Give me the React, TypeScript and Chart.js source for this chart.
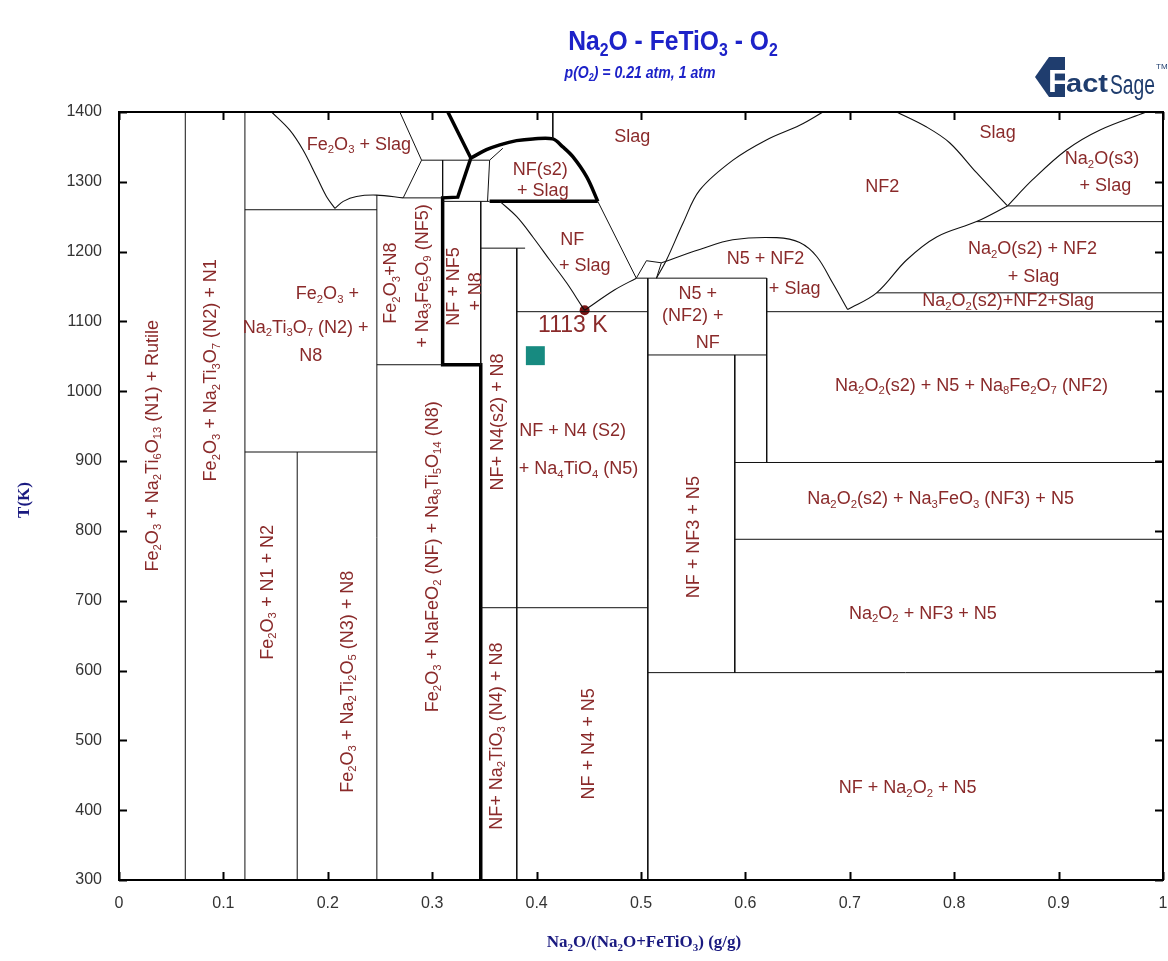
import React, { useEffect, useRef } from "react";
import { Chart, registerables } from "chart.js";

Chart.register(...registerables);

type P = [number, number];

// ---------- axes ----------
const X_MIN = 0;
const X_MAX = 1;
const X_STEP = 0.1;
const T_MIN = 300;
const T_MAX = 1400;
const T_STEP = 100;

// ---------- thin straight phase boundaries (x = mass ratio, T in K) ----------
const V_N1_N2: P[] = [[0.0635, 300], [0.0635, 1400]];
const V_N2_N8: P[] = [[0.1206, 300], [0.1206, 1400]];
const V_N1N2_N3: P[] = [[0.1707, 300], [0.1707, 913]];
const H_913: P[] = [[0.1206, 913], [0.247, 913]];
const H_1260: P[] = [[0.1206, 1260], [0.247, 1260]];
const V_N3_NF: P[] = [[0.247, 300], [0.247, 1281]];
const H_1277: P[] = [[0.2722, 1277], [0.31, 1277]];
const H_1331: P[] = [[0.2898, 1331], [0.355, 1331]];
const V_0310_TOP: P[] = [[0.31, 1331], [0.31, 1277]];
const V_0355: P[] = [[0.355, 1331], [0.353, 1272]];
const DOME_LINK: P[] = [[0.355, 1331], [0.3676, 1348]];
const H_1272: P[] = [[0.31, 1272], [0.355, 1272]];
const V_03465_UP: P[] = [[0.3465, 1272], [0.3465, 1038]];
const H_1038: P[] = [[0.247, 1038], [0.31, 1038]];
const H_1205: P[] = [[0.3465, 1205], [0.389, 1205]];
const V_0381: P[] = [[0.381, 1205], [0.381, 300]];
const H_1114_A: P[] = [[0.381, 1114], [0.5065, 1114]];
const H_1114_B: P[] = [[0.6204, 1114], [1, 1114]];
const H_690: P[] = [[0.3465, 690], [0.5065, 690]];
const V_05065: P[] = [[0.5065, 1162], [0.5065, 300]];
const H_1162: P[] = [[0.4955, 1162], [0.6204, 1162]];
const V_06204: P[] = [[0.6204, 1162], [0.6204, 898]];
const H_1052: P[] = [[0.5065, 1052], [0.6204, 1052]];
const V_05898: P[] = [[0.5898, 1052], [0.5898, 597]];
const H_898: P[] = [[0.5898, 898], [1, 898]];
const H_788: P[] = [[0.5898, 788], [1, 788]];
const H_597: P[] = [[0.5065, 597], [1, 597]];
const H_1141: P[] = [[0.7257, 1141], [1, 1141]];
const H_1243: P[] = [[0.8214, 1243], [1, 1243]];
const H_1265: P[] = [[0.8511, 1265.5], [1, 1265.5]];
const V_SLAG_TOP: P[] = [[0.4155, 1400], [0.4155, 1361.5]];
const SLAG_NF_EDGE: P[] = [[0.4586, 1272], [0.4955, 1162]];
const ZIGZAG: P[] = [[0.4955, 1162], [0.5052, 1187], [0.5195, 1184], [0.5148, 1162]];
const FE_SLAG_RIGHT: P[] = [[0.269, 1400], [0.2898, 1331], [0.2722, 1277]];

// ---------- curved phase boundaries ----------
const FE_SLAG_LEFT: P[] = [[0.1462, 1400], [0.1636, 1374], [0.1763, 1345.5], [0.1892, 1307.5], [0.1987, 1279], [0.2068, 1262]];
const FE_SLAG_BOTTOM: P[] = [[0.2068, 1262], [0.2148, 1272], [0.2275, 1279], [0.2467, 1281], [0.2722, 1277]];
const NF_SLAG_LEFT: P[] = [[0.3648, 1272], [0.381, 1250], [0.3964, 1221], [0.4126, 1188], [0.4289, 1155], [0.4433, 1122], [0.446, 1116]];
const NF_SLAG_RIGHT: P[] = [[0.446, 1116], [0.4745, 1145], [0.4955, 1162]];
const N5_NF2_SLAG: P[] = [[0.5195, 1184], [0.5562, 1203], [0.5879, 1217], [0.63, 1220], [0.652, 1213], [0.6683, 1193], [0.6836, 1155], [0.6979, 1117]];
const NF2_LEFT: P[] = [[0.5148, 1162], [0.5244, 1188], [0.5403, 1241], [0.5562, 1288], [0.5881, 1331], [0.6201, 1360], [0.652, 1381], [0.6743, 1400]];
const NF2_RIGHT: P[] = [[0.7449, 1400], [0.7736, 1378.5], [0.7956, 1356], [0.8214, 1313], [0.8511, 1265.5]];
const NA2O_LEFT: P[] = [[0.8511, 1265.5], [0.8751, 1303], [0.9076, 1346], [0.9392, 1374], [0.984, 1400]];
const NF2_BOTTOM: P[] = [[0.6979, 1117], [0.7257, 1141], [0.7544, 1188], [0.7832, 1221], [0.8214, 1243], [0.8511, 1265.5]];

// ---------- heavy boundaries ----------
const HEAVY_MAIN: P[] = [[0.315, 1400], [0.337, 1334], [0.3245, 1278], [0.31, 1277], [0.31, 1038], [0.3465, 1038], [0.3465, 300]];
const HEAVY_DOME: P[] = [[0.337, 1334], [0.352, 1346], [0.3648, 1353], [0.3808, 1359], [0.3964, 1361.5], [0.4155, 1361.5], [0.4251, 1350], [0.4347, 1336], [0.448, 1307], [0.4586, 1272]];
const HEAVY_FLOOR: P[] = [[0.355, 1272], [0.4586, 1272]];

// ---------- points ----------
const EUTECTIC: P[] = [[0.446, 1116]];
const MARKER: P[] = [[0.3988, 1051]];

const THIN_LINES: P[][] = [
  V_N1_N2, V_N2_N8, V_N1N2_N3, H_913, H_1260, V_N3_NF, H_1277, H_1331, V_0310_TOP, V_0355,
  DOME_LINK, H_1272, V_03465_UP, H_1038, H_1205, V_0381, H_1114_A, H_1114_B, H_690, V_05065,
  H_1162, V_06204, H_1052, V_05898, H_898, H_788, H_597, H_1141, H_1243, H_1265, V_SLAG_TOP,
  SLAG_NF_EDGE, ZIGZAG, FE_SLAG_RIGHT,
];
const CURVES: P[][] = [FE_SLAG_LEFT, FE_SLAG_BOTTOM, NF_SLAG_LEFT, NF_SLAG_RIGHT, N5_NF2_SLAG, NF2_LEFT, NF2_RIGHT, NA2O_LEFT, NF2_BOTTOM];
const HEAVY_LINES: P[][] = [HEAVY_MAIN, HEAVY_DOME, HEAVY_FLOOR];

// ---------- region labels: text (_ = subscript), x, T, vertical ----------
const REGION_LABELS: [string, number, number, boolean][] = [
  ["Fe_2O_3 + Na_2Ti_6O_{13} (N1) + Rutile", 0.0309, 922, true],
  ["Fe_2O_3 + Na_2Ti_3O_7 (N2) + N1", 0.0871, 1030, true],
  ["Fe_2O_3 +", 0.1996, 1141, false],
  ["Na_2Ti_3O_7 (N2) +", 0.1788, 1093, false],
  ["N8", 0.1836, 1052, false],
  ["Fe_2O_3 + N1 + N2", 0.1414, 712, true],
  ["Fe_2O_3 + Na_2Ti_2O_5 (N3) + N8", 0.2177, 584, true],
  ["Fe_2O_3 + NaFeO_2 (NF) + Na_8Ti_5O_{14} (N8)", 0.2994, 763, true],
  ["Fe_2O_3+N8", 0.2595, 1155, true],
  ["+ Na_3Fe_5O_9 (NF5)", 0.2898, 1165, true],
  ["NF + NF5", 0.32, 1150, true],
  ["+ N8", 0.3408, 1143, true],
  ["NF+ N4(s2) + N8", 0.3616, 956, true],
  ["NF+ Na_2TiO_3 (N4) + N8", 0.3605, 506, true],
  ["NF + N4 + N5", 0.4485, 495, true],
  ["NF + N4 (S2)", 0.4345, 945, false],
  ["+ Na_4TiO_4 (N5)", 0.4402, 890, false],
  ["Fe_2O_3 + Slag", 0.2298, 1355, false],
  ["NF(s2)", 0.4035, 1319, false],
  ["+ Slag", 0.406, 1288, false],
  ["NF", 0.4342, 1219, false],
  ["+ Slag", 0.4461, 1181, false],
  ["Slag", 0.4916, 1366, false],
  ["N5 +", 0.5543, 1141, false],
  ["(NF2) +", 0.5495, 1110, false],
  ["NF", 0.5639, 1071.5, false],
  ["NF + NF3 + N5", 0.5498, 791, true],
  ["N5 + NF2", 0.6193, 1190.7, false],
  ["+ Slag", 0.6472, 1148, false],
  ["NF2", 0.731, 1294, false],
  ["Slag", 0.8416, 1372, false],
  ["Na_2O(s3)", 0.9416, 1334, false],
  ["+ Slag", 0.9448, 1296, false],
  ["Na_2O(s2) + NF2", 0.875, 1205, false],
  ["+ Slag", 0.876, 1165, false],
  ["Na_2O_2(s2)+NF2+Slag", 0.8516, 1131, false],
  ["Na_2O_2(s2) + N5 + Na_8Fe_2O_7 (NF2)", 0.8166, 1009.5, false],
  ["Na_2O_2(s2) + Na_3FeO_3 (NF3) + N5", 0.787, 847.4, false],
  ["Na_2O_2 + NF3 + N5", 0.77, 683, false],
  ["NF + Na_2O_2 + N5", 0.7554, 433, false],
];
const EUTECTIC_LABEL: [string, number, number] = ["1113 K", 0.4347, 1097];

const TITLE = "Na_2O - FeTiO_3 - O_2";
const SUBTITLE = "p(O_2) = 0.21 atm, 1 atm";
const X_TITLE = "Na_2O/(Na_2O+FeTiO_3) (g/g)";
const Y_TITLE = "T(K)";

// ---------- rich text helper ----------
type Part = { t: string; sub: boolean };
function parseRich(s: string): Part[] {
  const out: Part[] = [];
  let buf = "";
  let i = 0;
  while (i < s.length) {
    if (s[i] === "_") {
      if (buf) { out.push({ t: buf, sub: false }); buf = ""; }
      i++;
      if (s[i] === "{") {
        const j = s.indexOf("}", i);
        out.push({ t: s.slice(i + 1, j), sub: true });
        i = j + 1;
      } else {
        out.push({ t: s[i], sub: true });
        i++;
      }
    } else {
      buf += s[i];
      i++;
    }
  }
  if (buf) out.push({ t: buf, sub: false });
  return out;
}

function drawRich(
  ctx: CanvasRenderingContext2D, s: string, cx: number, cy: number, size: number,
  family: string, weight: string, style: string, color: string, vertical: boolean,
  hscale = 1, subRatio = 0.64,
) {
  const parts = parseRich(s);
  const subSize = Math.round(size * subRatio);
  const font = (sz: number) => `${style} ${weight} ${sz}px ${family}`;
  let total = 0;
  const widths = parts.map((p) => {
    ctx.font = font(p.sub ? subSize : size);
    const w = ctx.measureText(p.t).width;
    total += w;
    return w;
  });
  ctx.save();
  ctx.translate(cx, cy);
  if (vertical) ctx.rotate(-Math.PI / 2);
  ctx.scale(hscale, 1);
  ctx.fillStyle = color;
  ctx.textBaseline = "alphabetic";
  ctx.textAlign = "left";
  let x = -total / 2;
  const base = size * 0.36;
  parts.forEach((p, k) => {
    ctx.font = font(p.sub ? subSize : size);
    ctx.fillText(p.t, x, p.sub ? base + size * 0.2 : base);
    x += widths[k];
  });
  ctx.restore();
}

const SANS = '"Liberation Sans", Arial, sans-serif';
const SERIF = '"Liberation Serif", "Times New Roman", serif';
const LABEL_COLOR = "#8a2a2a";
const TITLE_BLUE = "#1d22c8";
const AXIS_NAVY = "#1a1a80";

const overlayPlugin = {
  id: "phaseOverlay",
  afterDatasetsDraw(chart: any) {
    const { ctx, chartArea: a, scales } = chart;
    const xs = scales.x;
    const ys = scales.y;
    ctx.save();
    ctx.strokeStyle = "#000";
    ctx.lineWidth = 2;
    ctx.strokeRect(a.left, a.top, a.right - a.left, a.bottom - a.top);
    ctx.beginPath();
    for (let k = 0; k <= Math.round((X_MAX - X_MIN) / X_STEP); k++) {
      const px = Math.round(xs.getPixelForValue(X_MIN + k * X_STEP)) + 0.5;
      ctx.moveTo(px, a.bottom); ctx.lineTo(px, a.bottom - 8);
      ctx.moveTo(px, a.top); ctx.lineTo(px, a.top + 8);
    }
    for (let k = 0; k <= Math.round((T_MAX - T_MIN) / T_STEP); k++) {
      const py = Math.round(ys.getPixelForValue(T_MIN + k * T_STEP)) + 0.5;
      ctx.moveTo(a.left, py); ctx.lineTo(a.left + 8, py);
      ctx.moveTo(a.right, py); ctx.lineTo(a.right - 8, py);
    }
    ctx.stroke();
    ctx.restore();

    REGION_LABELS.forEach(([t, x, T, v]) => {
      drawRich(ctx, t, xs.getPixelForValue(x), ys.getPixelForValue(T), 17.5, SANS, "normal", "normal", LABEL_COLOR, v, 1.03, 0.6);
    });
    drawRich(ctx, EUTECTIC_LABEL[0], xs.getPixelForValue(EUTECTIC_LABEL[1]), ys.getPixelForValue(EUTECTIC_LABEL[2]), 23, SANS, "normal", "normal", LABEL_COLOR, false);

    drawRich(ctx, TITLE, 673, 40, 28, SANS, "bold", "normal", TITLE_BLUE, false, 0.88);
    drawRich(ctx, SUBTITLE, 640, 72, 16, SANS, "bold", "italic", TITLE_BLUE, false, 0.88);
    drawRich(ctx, X_TITLE, 644, 941, 17, SERIF, "bold", "normal", AXIS_NAVY, false);
    drawRich(ctx, Y_TITLE, 23, 500, 17, SERIF, "bold", "normal", AXIS_NAVY, true);
  },
};

function toXY(pts: P[]) {
  return pts.map(([x, y]) => ({ x, y }));
}

function fmtX(v: number) {
  if (Math.abs(v) < 1e-9) return "0";
  if (Math.abs(v - 1) < 1e-9) return "1";
  return v.toFixed(1);
}

function FactSageLogo() {
  const navy = "#1f3d6e";
  return (
    <svg width={135} height={56} style={{ position: "absolute", left: 1033, top: 50 }}>
      <polygon points="2,27 16,7 32,7 32,47 16,47" fill={navy} />
      <text x={15} y={42} fontFamily={SANS} fontWeight="bold" fontSize={32} fill="#fff">F</text>
      <text x={33} y={42} fontFamily={SANS} fontWeight="bold" fontSize={26} fill={navy} textLength={42} lengthAdjust="spacingAndGlyphs">act</text>
      <text x={77} y={44} fontFamily={SANS} fontSize={27} fill={navy} textLength={45} lengthAdjust="spacingAndGlyphs">Sage</text>
      <text x={123} y={19} fontFamily={SANS} fontSize={8} fill={navy}>TM</text>
    </svg>
  );
}

export default function App() {
  const ref = useRef<HTMLCanvasElement | null>(null);

  useEffect(() => {
    if (!ref.current) return;
    const datasets: any[] = [];
    THIN_LINES.forEach((pts) =>
      datasets.push({ data: toXY(pts), showLine: true, borderColor: "#111", borderWidth: 1, pointRadius: 0, tension: 0, fill: false }),
    );
    CURVES.forEach((pts) =>
      datasets.push({ data: toXY(pts), showLine: true, borderColor: "#111", borderWidth: 1.1, pointRadius: 0, tension: 0.35, fill: false }),
    );
    HEAVY_LINES.forEach((pts, i) =>
      datasets.push({ data: toXY(pts), showLine: true, borderColor: "#000", borderWidth: 3.5, pointRadius: 0, tension: i === 1 ? 0.35 : 0, fill: false, borderJoinStyle: "miter" }),
    );
    datasets.push({ data: toXY(MARKER), showLine: false, pointStyle: "rect", pointRadius: 13.4, backgroundColor: "#178a80", borderWidth: 0 });
    datasets.push({ data: toXY(EUTECTIC), showLine: false, pointStyle: "circle", pointRadius: 5, backgroundColor: "#7a1414", borderWidth: 0 });

    const chart = new Chart(ref.current, {
      type: "scatter",
      data: { datasets },
      options: {
        animation: false,
        responsive: false,
        devicePixelRatio: 1,
        layout: { autoPadding: false, padding: { top: 112, right: 5, bottom: 0, left: 0 } },
        plugins: { legend: { display: false }, tooltip: { enabled: false }, title: { display: false } },
        scales: {
          x: {
            type: "linear",
            min: X_MIN,
            max: X_MAX,
            grid: { display: false, drawTicks: false },
            border: { display: false },
            ticks: {
              stepSize: X_STEP,
              autoSkip: false,
              maxRotation: 0,
              padding: 14,
              color: "#333",
              font: { family: SANS, size: 16 },
              callback: (v: any) => fmtX(Number(v)),
            },
            afterFit: (s: any) => { s.height = 81; s.paddingLeft = 0; s.paddingRight = 0; },
          },
          y: {
            type: "linear",
            min: T_MIN,
            max: T_MAX,
            grid: { display: false, drawTicks: false },
            border: { display: false },
            ticks: {
              stepSize: T_STEP,
              autoSkip: false,
              padding: 17,
              color: "#333",
              font: { family: SANS, size: 16 },
              callback: (v: any) => String(v),
            },
            afterFit: (s: any) => { s.width = 119; s.paddingTop = 0; s.paddingBottom = 0; },
          },
        },
      },
      plugins: [overlayPlugin],
    } as any);
    return () => chart.destroy();
  }, []);

  return (
    <div style={{ position: "fixed", left: 0, top: 0, width: 1168, height: 961, background: "#fff" }}>
      <canvas ref={ref} width={1168} height={961} style={{ display: "block" }} />
      <FactSageLogo />
    </div>
  );
}
